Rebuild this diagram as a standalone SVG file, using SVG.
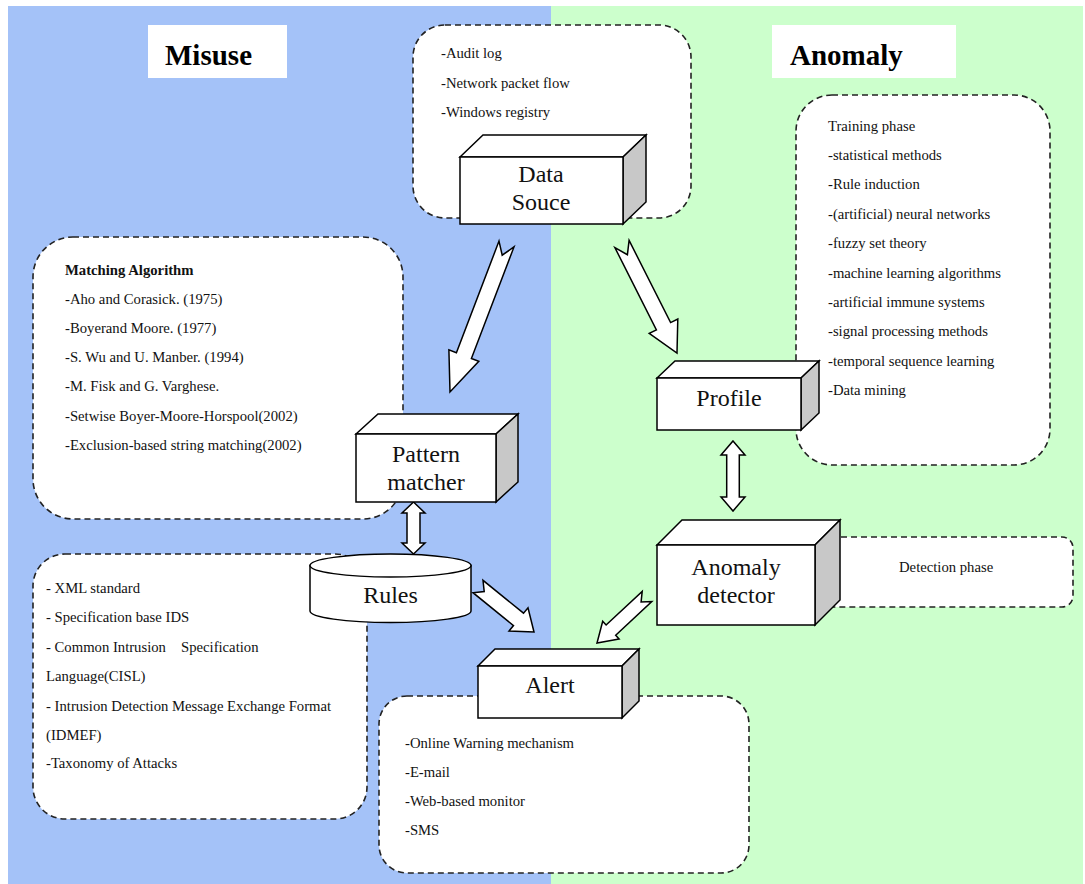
<svg xmlns="http://www.w3.org/2000/svg" width="1085" height="884" viewBox="0 0 1085 884">
<style>
.note{fill:#fff;stroke:#222;stroke-width:1.6;stroke-dasharray:6 4}
.face{fill:#fff;stroke:#000;stroke-width:1.5;stroke-linejoin:miter}
.side{fill:#c8c8c8;stroke:#000;stroke-width:1.5}
.arr{fill:#fff;stroke:#000;stroke-width:1.5;stroke-linejoin:miter}
.t{font-family:"Liberation Serif","Times New Roman",serif;font-size:14.7px;fill:#111}
.tb{font-family:"Liberation Serif","Times New Roman",serif;font-size:14.7px;font-weight:bold;fill:#111}
.lbl{font-family:"Liberation Serif","Times New Roman",serif;font-size:24px;fill:#111;text-anchor:middle}
.title{font-family:"Liberation Serif","Times New Roman",serif;font-size:29px;font-weight:bold;fill:#000}
</style>
<rect x="0" y="0" width="1085" height="884" fill="#fff"/>
<rect x="8" y="6" width="543" height="878" fill="#a4c2f8"/>
<rect x="551" y="6" width="532" height="878" fill="#ccffcc"/>

<g id="misuse-title">
<rect x="148" y="25" width="139" height="53" fill="#fff"/>
<text class="title" x="165" y="65">Misuse</text>
</g>
<g id="anomaly-title">
<rect x="772" y="25" width="184" height="53" fill="#fff"/>
<text class="title" x="790" y="65">Anomaly</text>
</g>

<g id="datasource-notes">
<rect class="note" x="413" y="25" width="278" height="193" rx="32"/>
<text class="t" x="441" y="58">-Audit log</text>
<text class="t" x="441" y="88">-Network packet flow</text>
<text class="t" x="441" y="117">-Windows registry</text>
</g>

<g id="matching-notes">
<rect class="note" x="33" y="237" width="370" height="282" rx="40"/>
<text class="tb" x="65" y="275">Matching Algorithm</text>
<text class="t" x="65" y="304">-Aho and Corasick. (1975)</text>
<text class="t" x="65" y="333">-Boyerand Moore. (1977)</text>
<text class="t" x="65" y="362">-S. Wu and U. Manber. (1994)</text>
<text class="t" x="65" y="391">-M. Fisk and G. Varghese.</text>
<text class="t" x="65" y="421">-Setwise Boyer-Moore-Horspool(2002)</text>
<text class="t" x="65" y="450">-Exclusion-based string matching(2002)</text>
</g>

<g id="spec-notes">
<rect class="note" x="33" y="554" width="334" height="265" rx="32"/>
<text class="t" x="46" y="593">- XML standard</text>
<text class="t" x="46" y="622">- Specification base IDS</text>
<text class="t" x="46" y="652">- Common Intrusion<tspan x="181">Specification</tspan></text>
<text class="t" x="46" y="681">Language(CISL)</text>
<text class="t" x="46" y="711">- Intrusion Detection Message Exchange Format</text>
<text class="t" x="46" y="740">(IDMEF)</text>
<text class="t" x="46" y="768">-Taxonomy of Attacks</text>
</g>

<g id="training-notes">
<rect class="note" x="796" y="95" width="254" height="370" rx="36"/>
<text class="t" x="828" y="131">Training phase</text>
<text class="t" x="828" y="160">-statistical methods</text>
<text class="t" x="828" y="189">-Rule induction</text>
<text class="t" x="828" y="219">-(artificial) neural networks</text>
<text class="t" x="828" y="248">-fuzzy set theory</text>
<text class="t" x="828" y="278">-machine learning algorithms</text>
<text class="t" x="828" y="307">-artificial immune systems</text>
<text class="t" x="828" y="336">-signal processing methods</text>
<text class="t" x="828" y="366">-temporal sequence learning</text>
<text class="t" x="828" y="395">-Data mining</text>
</g>

<g id="detection-notes">
<rect class="note" x="800" y="537" width="273" height="70" rx="11"/>
<text class="t" x="899" y="572">Detection phase</text>
</g>

<g id="alert-notes">
<rect class="note" x="379" y="696" width="370" height="177" rx="28"/>
<text class="t" x="405" y="748">-Online Warning mechanism</text>
<text class="t" x="405" y="777">-E-mail</text>
<text class="t" x="405" y="806">-Web-based monitor</text>
<text class="t" x="405" y="835">-SMS</text>
</g>

<g id="connectors">
<polygon class="arr" points="499,241.1 502.2,255.2 514,246.9 471.4,358.5 478.8,361.3 450,392 448.9,349.9 456.4,352.7"/>
<polygon class="arr" points="629.1,240.4 627.4,254.7 614.9,247.6 656.4,329.8 649.2,333.4 677,353 677.8,319 670.6,322.6"/>
<polygon class="arr" points="413.5,502 425,513 420,513 420,543 425,543 413.5,554 402,543 407,543 407,513 402,513"/>
<polygon class="arr" points="733,441 745,455 739.3,455 739.3,497 745,497 733,511 721,497 726.7,497 726.7,455 721,455"/>
<polygon class="arr" points="483,580.3 484.2,591.5 473,592.7 513.5,625.6 509,631 534,632 528,607.8 523.5,613.2"/>
<polygon class="arr" points="642.2,591.4 641.1,601.9 651.8,601.6 615.7,635.2 619.1,638.9 597,643 602.7,621.3 606.1,625"/>
</g>

<g id="data-source">
<polygon class="face" points="460,157 483,135 646,135 623,157"/>
<polygon class="side" points="623,157 646,135 646,202 623,224"/>
<rect class="face" x="460" y="157" width="163" height="67"/>
<text class="lbl" x="541" y="182">Data</text>
<text class="lbl" x="541" y="210">Souce</text>
</g>

<g id="pattern-matcher">
<polygon class="face" points="356,434 378,414 518,414 496,434"/>
<polygon class="side" points="496,434 518,414 518,482 496,502"/>
<rect class="face" x="356" y="434" width="140" height="68"/>
<text class="lbl" x="426" y="462">Pattern</text>
<text class="lbl" x="426" y="490">matcher</text>
</g>

<g id="rules">
<path class="face" d="M310,565.5 L310,611 A80.5,11.5 0 0 0 471,611 L471,565.5 Z"/>
<ellipse class="face" cx="390.5" cy="565.5" rx="80.5" ry="11.5"/>
<text class="lbl" x="390.5" y="603">Rules</text>
</g>

<g id="profile">
<polygon class="face" points="657,378 675,361 819,361 801,378"/>
<polygon class="side" points="801,378 819,361 819,413 801,430"/>
<rect class="face" x="657" y="378" width="144" height="52"/>
<text class="lbl" x="729" y="406">Profile</text>
</g>

<g id="anomaly-detector">
<polygon class="face" points="657,545 682,520 840,520 815,545"/>
<polygon class="side" points="815,545 840,520 840,600 815,625"/>
<rect class="face" x="657" y="545" width="158" height="80"/>
<text class="lbl" x="736" y="575">Anomaly</text>
<text class="lbl" x="736" y="603">detector</text>
</g>

<g id="alert">
<polygon class="face" points="478,666 495,649 639,649 622,666"/>
<polygon class="side" points="622,666 639,649 639,701 622,718"/>
<rect class="face" x="478" y="666" width="144" height="52"/>
<text class="lbl" x="550" y="693">Alert</text>
</g>
</svg>
